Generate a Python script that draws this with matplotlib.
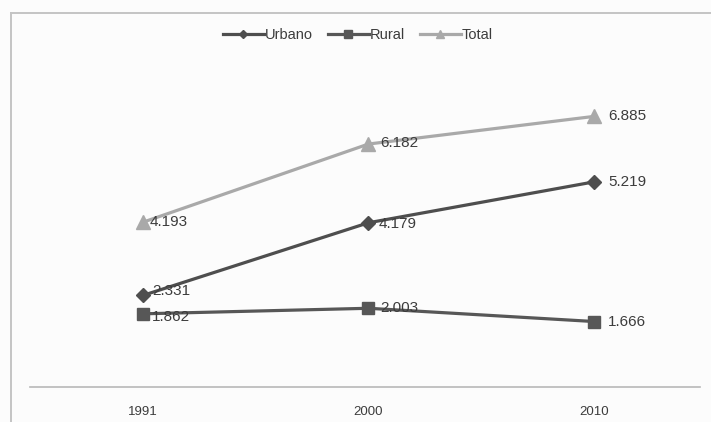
import matplotlib
matplotlib.use("Agg")
import matplotlib.pyplot as plt
from matplotlib.lines import Line2D

plt.rcParams["font.family"] = ["Liberation Sans", "DejaVu Sans"]

years = ["1991", "2000", "2010"]
urbano = [2.331, 4.179, 5.219]
rural = [1.862, 2.003, 1.666]
total = [4.193, 6.182, 6.885]

series = [
    ("Urbano", urbano, "#4e4e4e", "D", 7.5, [(9, 4), (10, -1), (14, 0)]),
    ("Rural", rural, "#575757", "s", 8.5, [(9, -3), (12, 0), (14, 0)]),
    ("Total", total, "#a9a9a9", "^", 9.5, [(7, 0), (12, 1), (14, 0)]),
]

W, H = 711, 422
fig = plt.figure(figsize=(W / 100, H / 100), dpi=100)
fig.patch.set_facecolor("#fcfcfc")

# frame around the chart
fig.add_artist(Line2D([11 / W, 11 / W], [0, 1 - 13 / H], transform=fig.transFigure,
                      color="#c4c4c4", lw=1.4))
fig.add_artist(Line2D([11 / W, 1], [1 - 13 / H, 1 - 13 / H], transform=fig.transFigure,
                      color="#c4c4c4", lw=1.4))

ax = fig.add_axes([30 / W, (H - 387) / H, 670 / W, 327 / H])
ax.set_facecolor("none")
x = list(range(len(years)))

handles = []
for name, vals, color, marker, ms, offsets in series:
    (ln,) = ax.plot(x, vals, color=color, lw=2.3, marker=marker, markersize=ms,
                    markeredgecolor=color, markerfacecolor=color, label=name, zorder=3)
    handles.append(ln)
    for xi, v, off in zip(x, vals, offsets):
        ax.annotate(f"{v:.3f}", (xi, v), xytext=off, textcoords="offset pixels",
                    ha="left", va="center", fontsize=11, color="#3c3c3c", zorder=4)

ax.set_xlim(-0.501, 2.47)
ax.set_ylim(0, 8.32)
ax.set_xticks(x)
ax.set_xticklabels(years, fontsize=9.5, color="#3c3c3c")
ax.tick_params(axis="x", length=0, pad=14)
ax.set_yticks([])
for side in ["top", "right", "left"]:
    ax.spines[side].set_visible(False)
ax.spines["bottom"].set_color("#b8b8b8")
ax.spines["bottom"].set_linewidth(1.2)

fig.legend(handles=handles, loc="center", bbox_to_anchor=(358 / W, 1 - 35 / H),
           ncol=3, frameon=False, fontsize=10.5, handlelength=2.8, handletextpad=0.1,
           columnspacing=1.0, labelcolor="#3c3c3c", markerscale=0.6)

fig.savefig("out.png", dpi=100, facecolor=fig.get_facecolor())
